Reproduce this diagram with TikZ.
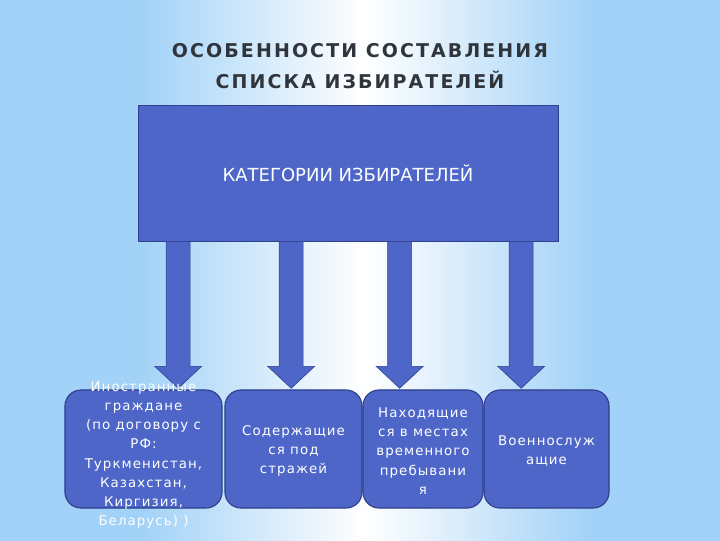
\documentclass[tikz,border=0pt]{standalone}
\usepackage{fontspec}
\setmainfont{DejaVu Sans}
\usetikzlibrary{positioning,calc}
\definecolor{bgblue}{HTML}{A2D2F7}
\definecolor{boxblue}{HTML}{4E66C8}
\definecolor{boxline}{HTML}{2E3F8C}
\definecolor{titlegray}{HTML}{30353C}

\begin{document}
\begin{tikzpicture}[x=0.025cm, y=-0.025cm,
    head/.style={font=\fontsize{13.5}{16}\selectfont\bfseries\addfontfeature{LetterSpace=11}, text=titlegray},
    cat/.style={draw=boxline, fill=boxblue, minimum width=10.5cm, minimum height=3.4cm, inner sep=0pt, text=white, font=\fontsize{12.8}{15}\selectfont},
    grp/.style={draw=boxline, thick, fill=boxblue, rounded corners=0.4cm, minimum height=2.95cm, inner sep=0pt},
    grptext/.style={align=center, text=white, inner sep=0pt, font=\fontsize{9.5}{13.6}\selectfont\addfontfeature{LetterSpace=8}},
    barr/.style={draw=boxline, fill=boxblue}
]
% background
\useasboundingbox (0,0) rectangle (720,540);
\clip (0,0) rectangle (720,540);
\fill[bgblue] (-10,-10) rectangle (730,550);
\shade[left color=bgblue, right color=bgblue, middle color=white] (140,-20) rectangle (590,560);

% title
\node[head] (title1) at (360,51) {ОСОБЕННОСТИ СОСТАВЛЕНИЯ};
\node[head] (title2) at (360,80) {СПИСКА ИЗБИРАТЕЛЕЙ};

% main block
\node[cat] (cat) at (348,173) {КАТЕГОРИИ ИЗБИРАТЕЛЕЙ};

% arrows
\foreach \dx [count=\i] in {40.5,153.5,262,383.5} {
  \coordinate (a\i) at ($(cat.south west)+(\dx,0)$);
  \draw[barr] ($(a\i)+(-12,0)$) -- ++(0,125) -- ++(-11.5,0) -- ++(23.5,22) -- ++(23.5,-22) -- ++(-11.5,0) -- ($(a\i)+(12,0)$) -- cycle;
}

% groups
\node[grp, minimum width=3.925cm] (foreign) at (143.5,449) {};
\node[grp, minimum width=3.425cm] (custody) at (293.5,449) {};
\node[grp, minimum width=3cm] (temporary) at (423,449) {};
\node[grp, minimum width=3.125cm] (military) at (546.5,449) {};

\node[grptext] at ([yshift=-0.15cm]foreign.center) {Иностранные\\граждане\\(по договору с\\РФ:\\Туркменистан,\\Казахстан,\\Киргизия,\\Беларусь) )};
\node[grptext] at ([yshift=-0.05cm]custody.center) {Содержащие\\ся под\\стражей};
\node[grptext] at ([yshift=-0.05cm]temporary.center) {Находящие\\ся в местах\\временного\\пребывани\\я};
\node[grptext] at ([yshift=-0.05cm]military.center) {Военнослуж\\ащие};
\end{tikzpicture}
\end{document}
